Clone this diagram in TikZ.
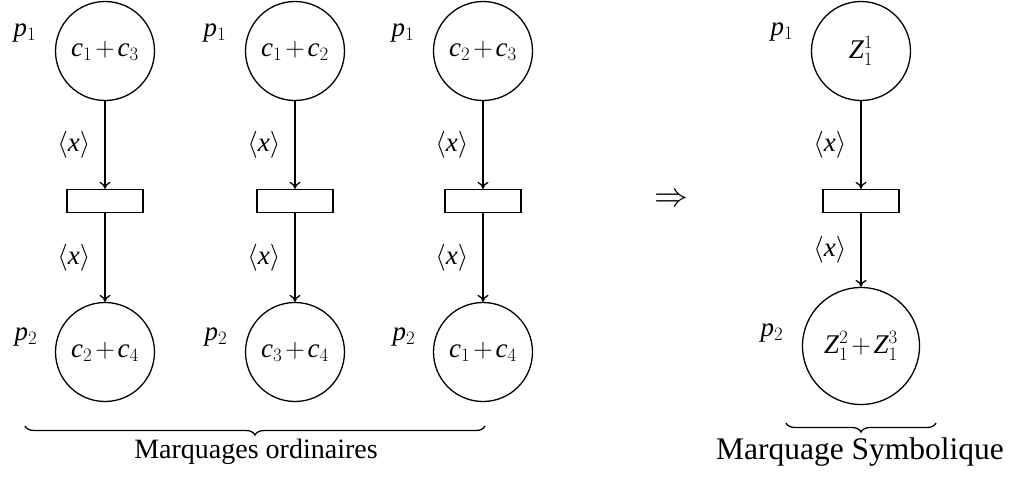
\RequirePackage{fix-cm}
\documentclass[tikz,border=0pt]{standalone}
\usepackage{fontspec}
\setmainfont{Liberation Serif}
\DeclareSymbolFont{letters}{TU}{\rmdefault}{m}{it}
\DeclareSymbolFont{operators}{TU}{\rmdefault}{m}{n}
\medmuskip=2mu plus 1mu minus 1mu
\usetikzlibrary{arrows.meta,decorations.pathreplacing,calc}
\begin{document}
\begin{tikzpicture}[x=1pt,y=-1pt,
  every node/.style={font=\fontsize{27}{32}\selectfont},
  place/.style={circle,draw,line width=1.3pt,minimum size=99pt,inner sep=0pt},
  bigplace/.style={place,minimum size=117pt},
  trans/.style={rectangle,draw,line width=1.3pt,minimum width=76pt,minimum height=23pt,inner sep=0pt},
  arc/.style={-{To[length=7pt,width=11pt]},line width=1.3pt},
  arclbl/.style={midway,left=14pt,inner sep=0pt},
  bracestyle/.style={decorate,decoration={brace,amplitude=9pt,mirror},line width=1.3pt}]
\useasboundingbox (0,0) rectangle (1013,477);

% column 1
\node[place] (a1) at (105,51) {$c_1+c_3$};
\node[trans] (ta) at (105,201) {};
\node[place] (a2) at (105,352) {$c_2+c_4$};
\node (pa1) at ($(a1)+(-80,-18)$) {$p_1$};
\node (pa2) at ($(a2)+(-79,-15)$) {$p_2$};
\draw[arc] (a1) -- node[arclbl] {$\langle x\rangle$} (ta);
\draw[arc] (ta) -- node[arclbl] {$\langle x\rangle$} (a2);

% column 2
\node[place] (b1) at (295,51) {$c_1+c_2$};
\node[trans] (tb) at (295,201) {};
\node[place] (b2) at (295,352) {$c_3+c_4$};
\node (pb1) at ($(b1)+(-80,-18)$) {$p_1$};
\node (pb2) at ($(b2)+(-79,-15)$) {$p_2$};
\draw[arc] (b1) -- node[arclbl] {$\langle x\rangle$} (tb);
\draw[arc] (tb) -- node[arclbl] {$\langle x\rangle$} (b2);

% column 3
\node[place] (c1) at (483,51) {$c_2+c_3$};
\node[trans] (tc) at (483,201) {};
\node[place] (c2) at (483,352) {$c_1+c_4$};
\node (pc1) at ($(c1)+(-80,-18)$) {$p_1$};
\node (pc2) at ($(c2)+(-79,-15)$) {$p_2$};
\draw[arc] (c1) -- node[arclbl] {$\langle x\rangle$} (tc);
\draw[arc] (tc) -- node[arclbl] {$\langle x\rangle$} (c2);

% implication
\node[font=\fontsize{34}{40}\selectfont] (imp) at (671,200) {$\Rightarrow$};

% symbolic column
\node[place] (d1) at (861,51) {$Z_1^1$};
\node[trans] (td) at (861,201) {};
\node[bigplace] (d2) at (861,346) {$Z_1^2+Z_1^3$};
\node (pd1) at ($(d1)+(-79,-19)$) {$p_1$};
\node (pd2) at ($(d2)+(-89,-13)$) {$p_2$};
\draw[arc] (d1) -- node[arclbl] {$\langle x\rangle$} (td);
\draw[arc] (td) -- node[arclbl] {$\langle x\rangle$} (d2);

% braces and captions
\coordinate (bl1) at (25,426);
\coordinate (bl2) at (485,426);
\draw[bracestyle] (bl1) -- (bl2);
\node[font=\fontsize{28}{34}\selectfont] (cap1) at (256,452) {Marquages ordinaires};
\coordinate (br1) at (786,423);
\coordinate (br2) at (936,423);
\draw[bracestyle] (br1) -- (br2);
\node[font=\fontsize{31.5}{38}\selectfont] (cap2) at (860,452) {Marquage Symbolique};
\end{tikzpicture}
\end{document}
